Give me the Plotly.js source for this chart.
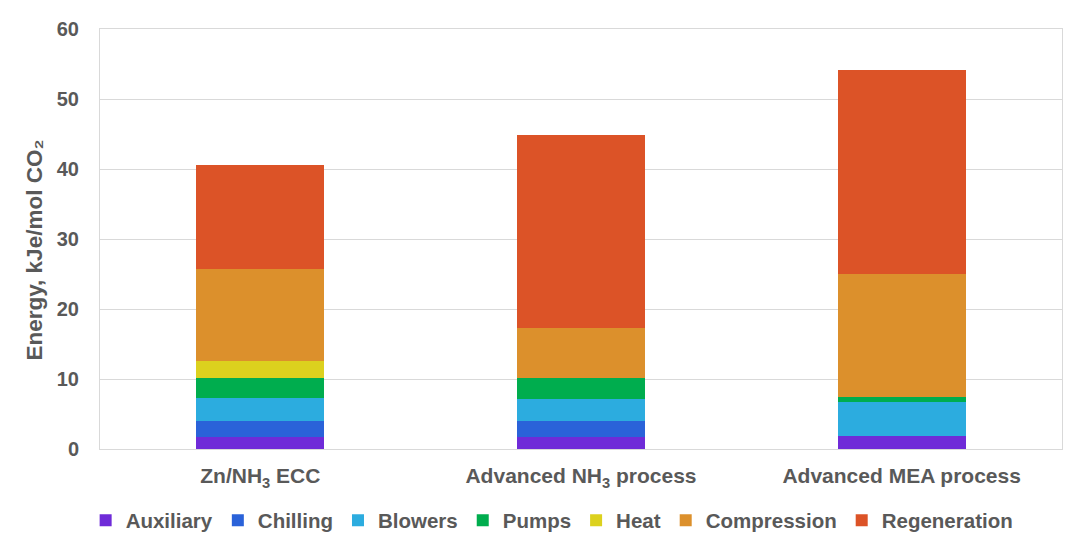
<!DOCTYPE html>
<html>
<head>
<meta charset="utf-8">
<script src="https://cdn.plot.ly/plotly-3.0.1.min.js"></script>
<style>html,body{margin:0;padding:0;background:#fff;}#chart{width:1080px;height:558px;}</style>
</head>
<body>
<div id="chart"></div>
<script>
const categories = ["Zn/NH<sub>3</sub> ECC", "Advanced NH<sub>3</sub> process", "Advanced MEA process"];
const seriesNames = ["Auxiliary", "Chilling", "Blowers", "Pumps", "Heat", "Compression", "Regeneration"];
const auxiliary = [1.75, 1.75, 1.9];
const chilling = [2.3, 2.2, 0];
const blowers = [3.2, 3.2, 4.8];
const pumps = [2.95, 2.95, 0.8];
const heat = [2.35, 0, 0];
const compression = [13.15, 7.25, 17.5];
const regeneration = [14.9, 27.5, 29.1];
const yTicks = [0, 10, 20, 30, 40, 50, 60];
const yTitle = "Energy, kJe/mol CO\u2082";

const seriesValues = [auxiliary, chilling, blowers, pumps, heat, compression, regeneration];
const colors = ["#6F2BD8", "#2A62D9", "#2CACDF", "#00AD4E", "#DCD11E", "#DC902C", "#DC5327"];

const fam = "Liberation Sans, Arial, sans-serif";
const grey = "#595959";

const traces = seriesNames.map((name, i) => ({
  type: "bar",
  name: name,
  x: categories,
  y: seriesValues[i],
  marker: {color: colors[i], line: {width: 0}},
  hoverinfo: "skip"
}));

const layout = {
  width: 1080, height: 558,
  margin: {l: 100, r: 18, t: 29, b: 109, autoexpand: false},
  barmode: "stack",
  bargap: 0.6,
  paper_bgcolor: "#fff",
  plot_bgcolor: "#fff",
  font: {family: fam, color: grey, size: 21, weight: "bold"},
  showlegend: true,
  legend: {
    orientation: "h",
    x: 0.47, xanchor: "center",
    y: -0.17, yanchor: "middle",
    font: {family: fam, color: grey, size: 20.5, weight: "bold"},
    traceorder: "normal",
    itemwidth: 30,
    tracegroupgap: 0
  },
  xaxis: {
    type: "category",
    showgrid: false,
    showline: true,
    mirror: true,
    linecolor: "#D9D9D9",
    linewidth: 1,
    ticks: "",
    tickfont: {family: fam, color: grey, size: 21, weight: "bold"},
    ticklabelstandoff: 8
  },
  yaxis: {
    range: [0, 60],
    tickvals: yTicks,
    ticktext: yTicks.map(String),
    showgrid: true,
    gridcolor: "#D9D9D9",
    gridwidth: 1,
    zeroline: false,
    showline: true,
    mirror: true,
    linecolor: "#D9D9D9",
    linewidth: 1,
    ticks: "",
    tickfont: {family: fam, color: grey, size: 20, weight: "bold"},
    ticklabelstandoff: 16
  },
  annotations: [{
    text: yTitle,
    xref: "paper", yref: "paper",
    x: -0.068, y: 0.474,
    xanchor: "center", yanchor: "middle",
    textangle: -90,
    showarrow: false,
    font: {family: fam, color: grey, size: 22.5, weight: "bold"}
  }]
};

Plotly.newPlot("chart", traces, layout, {displayModeBar: false, staticPlot: true});
</script>
</body>
</html>
